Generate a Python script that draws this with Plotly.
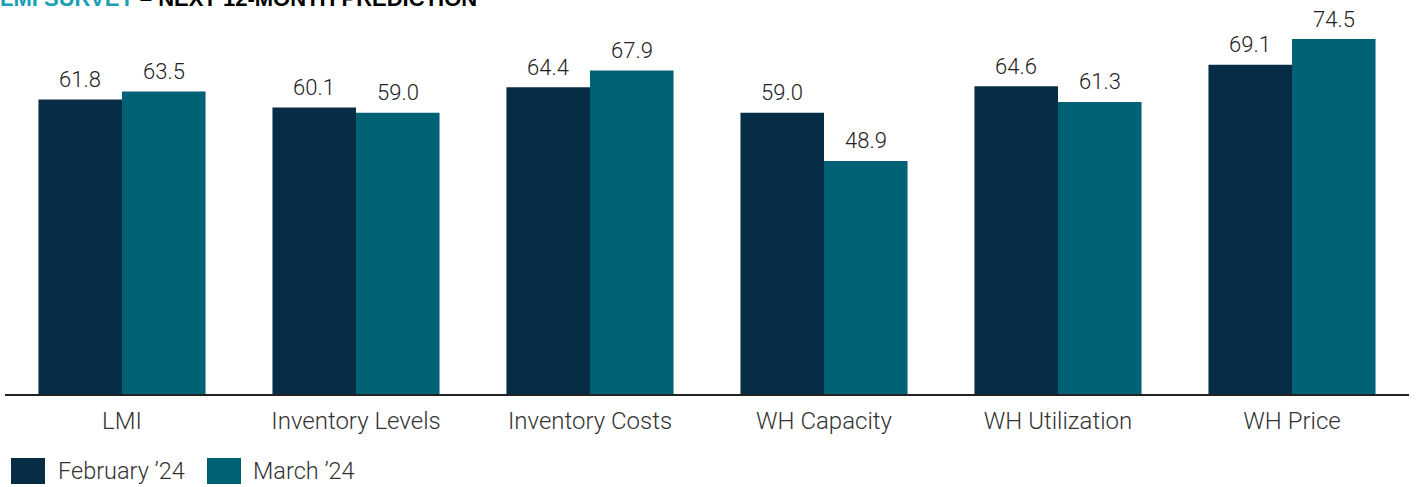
import plotly.graph_objects as go

categories = ["LMI", "Inventory Levels", "Inventory Costs", "WH Capacity", "WH Utilization", "WH Price"]
feb_values = [61.8, 60.1, 64.4, 59.0, 64.6, 69.1]
mar_values = [63.5, 59.0, 67.9, 48.9, 61.3, 74.5]
series_names = ["February ’24", "March ’24"]
colors = ["#062d45", "#016276"]

W, H = 1417, 487
ml, mr, mt, mb = 5, 8, 10, 93
pw, ph = W - ml - mr, H - mt - mb
BARGAP = 0.286

def px(x):
    return (x - ml) / pw

def py(y):
    return (H - mb - y) / ph

fig = go.Figure()
for name, vals, col in zip(series_names, [feb_values, mar_values], colors):
    fig.add_trace(go.Bar(
        x=categories, y=vals, name=name, marker=dict(color=col, line=dict(width=0)),
        showlegend=False, hoverinfo="skip",
    ))

# value labels above bars (positioned in data coordinates)
half = (1 - BARGAP) / 4
for si, vals in enumerate([feb_values, mar_values]):
    off = -half if si == 0 else half
    for i, v in enumerate(vals):
        fig.add_annotation(x=i + off, y=v, xref="x", yref="y", text=f"{v:.1f}",
                           showarrow=False, yanchor="middle", yshift=20,
                           font=dict(family="Roboto", size=22, color="#222222", weight=300))

fig.update_layout(
    width=W, height=H,
    margin=dict(l=ml, r=mr, t=mt, b=mb),
    barmode="group", bargap=BARGAP, bargroupgap=0,
    plot_bgcolor="white", paper_bgcolor="white",
    font=dict(family="Roboto", color="#333333"),
    xaxis=dict(showline=True, linecolor="#222222", linewidth=1.5, ticks="",
               ticklabelstandoff=4,
               tickfont=dict(family="Roboto", size=24, color="#333333", weight=300),
               showgrid=False),
    yaxis=dict(visible=False, range=[0, ph / 4.765], showgrid=False),
)

# Title (partially cut at top as in reference)
fig.add_annotation(
    x=px(-2), y=py(-2), xref="paper", yref="paper", xanchor="left", yanchor="middle",
    text="<b><span style='color:#1aa0b2'>LMI SURVEY</span> – NEXT 12-MONTH PREDICTION</b>",
    showarrow=False, font=dict(family="Liberation Sans", size=22, color="#000000"),
)

# Custom legend
legend_items = [(11, 45, 56), (207, 241, 251)]
for (x0, x1, tx), name, col in zip(legend_items, series_names, colors):
    fig.add_shape(type="rect", xref="paper", yref="paper",
                  x0=px(x0), x1=px(x1), y0=py(484), y1=py(458),
                  fillcolor=col, line=dict(width=0))
    fig.add_annotation(x=px(tx), y=py(471), xref="paper", yref="paper",
                       xanchor="left", yanchor="middle", text=name, showarrow=False,
                       font=dict(family="Roboto", size=23.5, color="#333333", weight=300))

fig.write_html("out.html", config={"displayModeBar": False},
               post_script="document.body.style.margin='0';document.body.style.padding='0';")
